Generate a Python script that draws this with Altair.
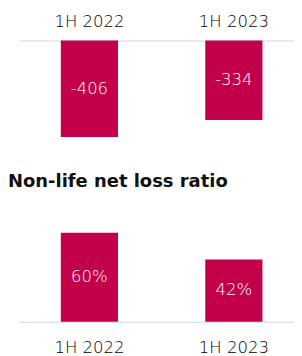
import altair as alt
import pandas as pd

periods = ["1H 2022", "1H 2023"]
result_values = [-406, -334]
result_labels = ["-406", "-334"]
loss_ratio = [60, 42]
loss_labels = ["60%", "42%"]

BAR = "#C3004A"
FONT = "DejaVu Sans"

top_df = pd.DataFrame({"period": periods, "value": result_values, "label": result_labels})
bot_df = pd.DataFrame({"period": periods, "value": loss_ratio, "label": loss_labels})

xscale = alt.Scale(domain=periods, paddingInner=0.604, paddingOuter=0.255, align=0.572)


def xenc(orient, pad):
    return alt.X(
        "period:N",
        scale=xscale,
        sort=periods,
        axis=alt.Axis(
            orient=orient, title=None, ticks=False, labelAngle=0,
            labelFont=FONT, labelFontSize=17, labelFontWeight=200,
            labelColor="#000000", labelPadding=pad,
            domainColor="#DFE3EA", domainWidth=1.5,
        ),
    )


top_base = alt.Chart(top_df).encode(x=xenc("top", 10))
top = alt.layer(
    top_base.mark_bar(color=BAR).encode(
        y=alt.Y("value:Q", scale=alt.Scale(domain=[-420, 0], nice=False), axis=None)
    ),
    top_base.transform_calculate(mid="datum.value / 2").mark_text(
        color="white", font=FONT, fontSize=17, fontWeight=200
    ).encode(y=alt.Y("mid:Q"), text="label:N"),
).properties(width=284, height=103)

bot_base = alt.Chart(bot_df).encode(x=xenc("bottom", 19))
bot = alt.layer(
    bot_base.mark_bar(color=BAR).encode(
        y=alt.Y("value:Q", scale=alt.Scale(domain=[0, 70], nice=False), axis=None)
    ),
    bot_base.transform_calculate(mid="datum.value / 2").mark_text(
        color="white", font=FONT, fontSize=17, fontWeight=200
    ).encode(y=alt.Y("mid:Q"), text="label:N"),
).properties(
    width=284, height=107,
    title=alt.TitleParams(
        "Non-life net loss ratio", anchor="start", font=FONT, fontSize=18.5,
        fontWeight="bold", color="#111111", dx=-11, offset=28,
    ),
)

chart = alt.vconcat(top, bot, spacing=33).resolve_scale(y="independent").properties(
    padding={"left": 0, "top": 0, "right": 0, "bottom": 0}
).configure_view(stroke=None)

chart.save("out.html", embed_options={"renderer": "svg", "actions": False})
